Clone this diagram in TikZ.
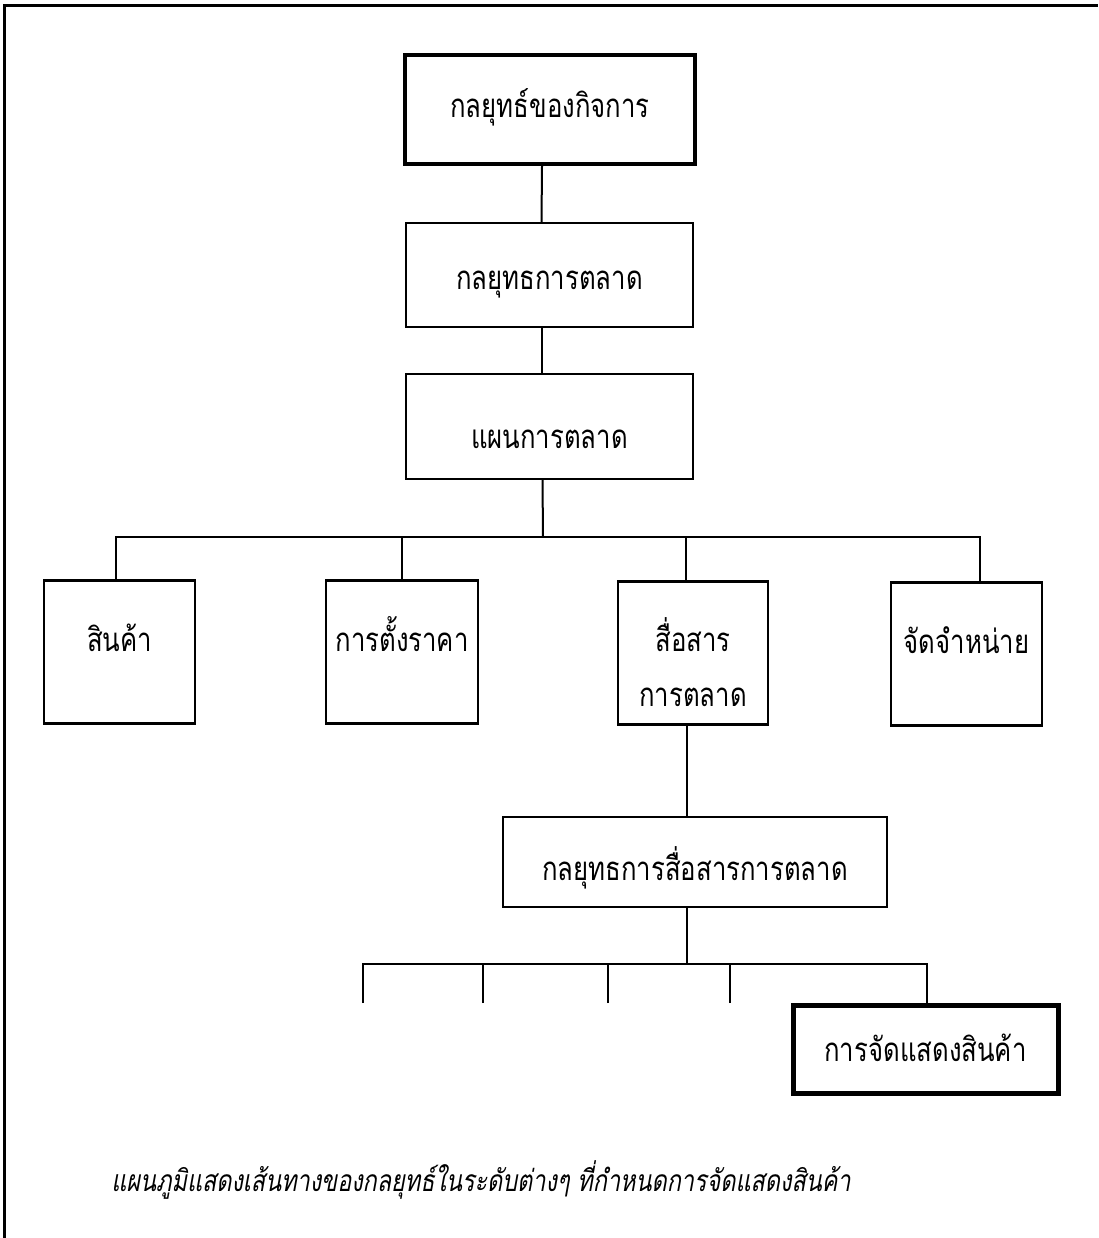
\documentclass[tikz,border=0pt]{standalone}
\usepackage{fontspec}
\newfontfamily\thaifont[Script=Thai,FakeStretch=0.78]{Loma}
\newfontfamily\thaiital[Script=Thai,FakeStretch=0.78,FakeSlant=0.18]{Loma}
\begin{document}
\begin{tikzpicture}[x=1pt,y=-1pt,
  box/.style={draw,line width=2.4pt,inner sep=0pt,font=\thaifont\fontsize{33}{38}\selectfont,text height=17pt,text depth=0pt},
  conn/.style={line width=2pt},
  frame/.style={line width=3pt}]
\useasboundingbox (0,0) rectangle (1098,1238);
\draw[frame] (4,1238) -- (4,6) -- (1098,6);

\node[box,line width=3.5pt,minimum width=290pt,minimum height=109pt] (b1) at (550,109.5) {กลยุทธ์ของกิจการ};
\node[box,minimum width=287pt,minimum height=104pt,text height=29pt] (b2) at (549.5,275) {กลยุทธการตลาด};
\node[box,minimum width=287pt,minimum height=105pt,text height=44pt] (b3) at (549.5,426.5) {แผนการตลาด};

\node[box,minimum width=151pt,minimum height=143pt,text depth=18pt] (s1) at (119.5,652) {สินค้า};
\node[box,minimum width=152pt,minimum height=143pt,text depth=18pt] (s2) at (402,652) {การตั้งราคา};
\node[box,minimum width=150pt,minimum height=143pt,align=center,text height=107pt,text depth=0pt] (s3) at (693,653) {สื่อสาร\\[17pt]การตลาด};
\node[box,minimum width=151pt,minimum height=143pt,text depth=18pt] (s4) at (966.5,654) {จัดจำหน่าย};

\node[box,minimum width=384pt,minimum height=90pt,text height=37pt] (b5) at (695,862) {กลยุทธการสื่อสารการตลาด};
\node[box,line width=5pt,minimum width=265pt,minimum height=88pt,text height=25pt] (b6) at (925.5,1049) {การจัดแสดงสินค้า};

\draw[conn] ([xshift=-8pt]b1.south) -- ([xshift=-8pt]b2.north);
\draw[conn] ([xshift=-8pt]b2.south) -- ([xshift=-8pt]b3.north);
\coordinate (j1) at (543,537);
\draw[conn] ([xshift=-7pt]b3.south) -- (j1);
\draw[conn] (s1.north -| 116,0) |- (j1) -| (s4.north -| 980,0);
\draw[conn] (s2.north) -- (s2.north |- j1);
\draw[conn] ([xshift=-7pt]s3.north) -- ([xshift=-7pt]s3.north |- j1);

\draw[conn] ([xshift=-6pt]s3.south) -- ([xshift=-8pt]b5.north);
\coordinate (j2) at (687,964);
\draw[conn] ([xshift=-8pt]b5.south) -- (j2);
\coordinate (t1) at (363,1003);
\coordinate (t2) at (483,1003);
\coordinate (t3) at (608,1003);
\coordinate (t4) at (730,1003);
\draw[conn] (t1) |- (j2) -| (b6.north -| 927,0);
\draw[conn] (t2) -- (t2 |- j2);
\draw[conn] (t3) -- (t3 |- j2);
\draw[conn] (t4) -- (t4 |- j2);

\node[font=\thaiital\fontsize{30}{36}\selectfont,inner sep=0pt] (cap) at (481,1180) {แผนภูมิแสดงเส้นทางของกลยุทธ์ในระดับต่างๆ ที่กำหนดการจัดแสดงสินค้า};
\end{tikzpicture}
\end{document}
